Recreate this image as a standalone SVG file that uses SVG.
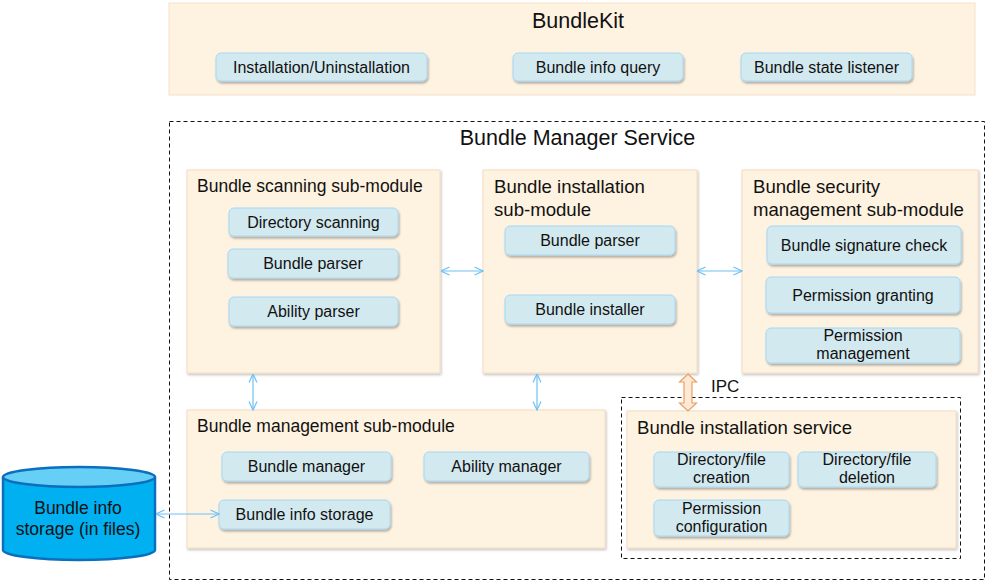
<svg xmlns="http://www.w3.org/2000/svg" width="989" height="583" viewBox="0 0 989 583">
<defs>
<style>
text{font-family:"Liberation Sans",Arial,sans-serif;fill:#111}
.title{font-size:21.5px;text-anchor:middle}
.mod{fill:#FEF2E0;stroke:#F5DCC0;stroke-width:1;filter:url(#msh)}
.mt{font-size:17.5px}
.mt2{font-size:18.6px}
.pill{fill:#D3E9F0;stroke:#A6D8F5;stroke-width:1;filter:url(#psh)}
.pt{font-size:16px;text-anchor:middle}
.dash{fill:none;stroke:#111;stroke-width:1;stroke-dasharray:4,3}
.conn{stroke:#6EC1F5;stroke-width:1.2;fill:none;marker-start:url(#ah);marker-end:url(#ah)}
</style>
<filter id="psh" x="-10%" y="-20%" width="125%" height="160%"><feDropShadow dx="1" dy="2" stdDeviation="1" flood-color="#000" flood-opacity="0.3"/></filter>
<filter id="msh" x="-5%" y="-5%" width="110%" height="110%"><feDropShadow dx="1" dy="1.5" stdDeviation="0.8" flood-color="#000" flood-opacity="0.25"/></filter>
<marker id="ah" viewBox="0 0 10 10" refX="9.5" refY="5" markerWidth="10" markerHeight="10" markerUnits="userSpaceOnUse" orient="auto-start-reverse"><path d="M1,1 L9.5,5 L1,9" fill="none" stroke="#6EC1F5" stroke-width="1.2"/></marker>
</defs>
<rect width="989" height="583" fill="#fff"/>

<g id="bundlekit">
<rect x="169" y="3" width="806" height="92" fill="#FEF2E0" stroke="#F7E0C8"/>
<text class="title" x="578" y="28">BundleKit</text>
<rect class="pill" x="216" y="53" width="211" height="28" rx="5"/>
<text class="pt" x="321.5" y="72.5">Installation/Uninstallation</text>
<rect class="pill" x="513" y="53" width="170" height="28" rx="5"/>
<text class="pt" x="598" y="72.5">Bundle info query</text>
<rect class="pill" x="741" y="53" width="171" height="28" rx="5"/>
<text class="pt" x="826.5" y="72.5">Bundle state listener</text>
</g>

<g id="bms">
<rect class="dash" x="169.5" y="121.5" width="815" height="458"/>
<text class="title" x="577.5" y="145">Bundle Manager Service</text>
</g>

<g id="scanning">
<rect class="mod" x="187" y="170" width="253" height="203"/>
<text class="mt" x="197" y="192">Bundle scanning sub-module</text>
<rect class="pill" x="229" y="208" width="169" height="28" rx="5"/>
<text class="pt" x="313.5" y="227.5">Directory scanning</text>
<rect class="pill" x="228" y="249" width="170" height="29" rx="5"/>
<text class="pt" x="313" y="269">Bundle parser</text>
<rect class="pill" x="229" y="297" width="169" height="29" rx="5"/>
<text class="pt" x="313.5" y="317">Ability parser</text>
</g>

<g id="installation">
<rect class="mod" x="483" y="170" width="214" height="203"/>
<text class="mt2" x="494" y="193">Bundle installation</text>
<text class="mt2" x="494" y="216">sub-module</text>
<rect class="pill" x="505" y="226" width="170" height="29" rx="5"/>
<text class="pt" x="590" y="246">Bundle parser</text>
<rect class="pill" x="505" y="295" width="170" height="29" rx="5"/>
<text class="pt" x="590" y="315">Bundle installer</text>
</g>

<g id="security">
<rect class="mod" x="742" y="170" width="236" height="203"/>
<text class="mt2" x="753" y="193">Bundle security</text>
<text class="mt2" x="753" y="216">management sub-module</text>
<rect class="pill" x="767" y="226" width="194" height="38" rx="5"/>
<text class="pt" x="864" y="250.5">Bundle signature check</text>
<rect class="pill" x="766" y="277" width="194" height="36" rx="5"/>
<text class="pt" x="863" y="300.5">Permission granting</text>
<rect class="pill" x="766" y="328" width="194" height="35" rx="5"/>
<text class="pt" x="863" y="341">Permission</text>
<text class="pt" x="863" y="359">management</text>
</g>

<g id="management">
<rect class="mod" x="187" y="410" width="418" height="138"/>
<text class="mt" x="197" y="432">Bundle management sub-module</text>
<rect class="pill" x="222" y="452" width="169" height="29" rx="5"/>
<text class="pt" x="306.5" y="472">Bundle manager</text>
<rect class="pill" x="424" y="452" width="165" height="29" rx="5"/>
<text class="pt" x="506.5" y="472">Ability manager</text>
<rect class="pill" x="219" y="500" width="171" height="29" rx="5"/>
<text class="pt" x="304.5" y="520">Bundle info storage</text>
</g>

<g id="install-service">
<rect class="dash" x="621.5" y="397.5" width="339" height="161" stroke-dasharray="6,3"/>
<rect class="mod" x="627" y="411" width="329" height="137"/>
<text class="mt2" x="637" y="434">Bundle installation service</text>
<rect class="pill" x="654" y="452" width="135" height="35" rx="5"/>
<text class="pt" x="721.5" y="465">Directory/file</text>
<text class="pt" x="721.5" y="483">creation</text>
<rect class="pill" x="798" y="452" width="138" height="35" rx="5"/>
<text class="pt" x="867" y="465">Directory/file</text>
<text class="pt" x="867" y="483">deletion</text>
<rect class="pill" x="654" y="500" width="135" height="36" rx="5"/>
<text class="pt" x="721.5" y="514">Permission</text>
<text class="pt" x="721.5" y="532">configuration</text>
</g>

<g id="storage">
<path d="M3,477 L3,550 A76,10 0 0 0 155,550 L155,477" fill="#00B0F0" stroke="#0A6FBF" stroke-width="2.5"/>
<ellipse cx="79" cy="477" rx="76" ry="10" fill="#66CFF5" stroke="#0A6FBF" stroke-width="2.5"/>
<text x="78" y="514" font-size="17.5" text-anchor="middle">Bundle info</text>
<text x="78" y="535" font-size="17.5" text-anchor="middle">storage (in files)</text>
</g>

<g id="connectors">
<line class="conn" x1="441" y1="271" x2="483" y2="271"/>
<line class="conn" x1="697" y1="271" x2="742" y2="271"/>
<line class="conn" x1="253" y1="374" x2="253" y2="410"/>
<line class="conn" x1="537" y1="374" x2="537" y2="410"/>
<line class="conn" x1="156" y1="514" x2="219" y2="514"/>
<polygon points="688,374 696.5,382 692,382 692,403 696.5,403 688,411 679.5,403 684,403 684,382 679.5,382" fill="#FDE9D6" stroke="#E8A062" stroke-width="1.2"/>
<text x="711" y="392" font-size="17">IPC</text>
</g>
</svg>
